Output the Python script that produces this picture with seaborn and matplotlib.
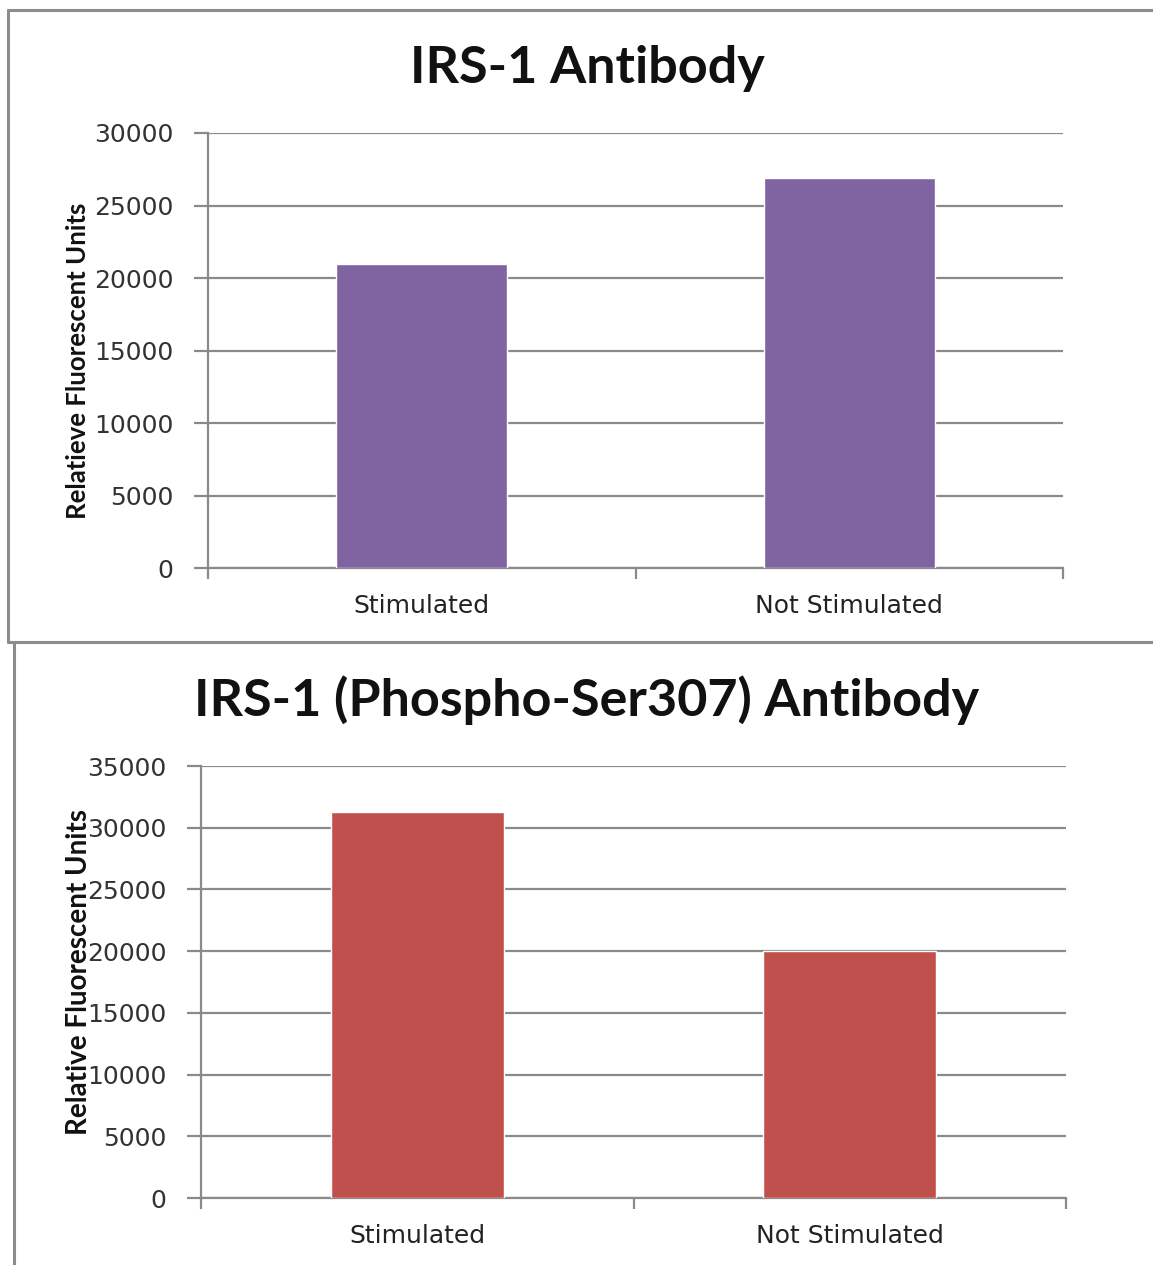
import matplotlib
matplotlib.use("Agg")
import matplotlib.pyplot as plt
import seaborn as sns
import pandas as pd
from matplotlib.lines import Line2D

categories = ["Stimulated", "Not Stimulated"]
irs1_values = [21000, 26900]
phospho_values = [31300, 20000]
title_top = "IRS-1 Antibody"
title_bottom = "IRS-1 (Phospho-Ser307) Antibody"
ylabel_top = "Relatieve Fluorescent Units"
ylabel_bottom = "Relative Fluorescent Units"
yticks_top = [0, 5000, 10000, 15000, 20000, 25000, 30000]
yticks_bottom = [0, 5000, 10000, 15000, 20000, 25000, 30000, 35000]

sns.set_theme(style="white")
plt.rcParams['font.family'] = ['DejaVu Sans']

W, H = 1153, 1265
fig = plt.figure(figsize=(W / 100, H / 100), dpi=100)
fig.patch.set_facecolor("white")

def px_axes(l, r, t, b):
    return fig.add_axes([l / W, 1 - b / H, (r - l) / W, (b - t) / H])

grid_c = "#8a8a8a"

def draw(ax, vals, color, yticks, ymax):
    df = pd.DataFrame({"cat": categories, "val": vals})
    sns.barplot(data=df, x="cat", y="val", color=color, width=0.4,
                saturation=1, ax=ax, zorder=3)
    ax.set_xlim(-0.5, 1.5)
    ax.set_ylim(0, ymax)
    ax.set_yticks(yticks)
    ax.set_yticklabels([str(v) for v in yticks], fontsize=18, color="#333333")
    ax.yaxis.grid(True, color=grid_c, linewidth=1.6, zorder=0)
    ax.set_axisbelow(True)
    for s in ["top", "right"]:
        ax.spines[s].set_visible(False)
    for s in ["left", "bottom"]:
        ax.spines[s].set_color(grid_c)
        ax.spines[s].set_linewidth(1.6)
    ax.tick_params(axis="y", which="major", length=10, width=1.6, color=grid_c,
                   direction="out", left=True, pad=15)
    ax.tick_params(axis="x", which="major", length=0, pad=19)
    ax.set_xticks([-0.5, 0.5, 1.5], minor=True)
    ax.tick_params(axis="x", which="minor", length=8, width=1.6, color=grid_c,
                   direction="out", bottom=True)
    for lab in ax.get_xticklabels():
        lab.set_fontsize(18)
        lab.set_color("#222222")
    ax.set_xlabel("")
    ax.set_ylabel("")
    ax.patch.set_alpha(0)

ax1 = px_axes(208, 1063, 133, 568)
draw(ax1, irs1_values, "#8064A2", yticks_top, 30000)
ax2 = px_axes(201, 1066, 766, 1198)
draw(ax2, phospho_values, "#C0504D", yticks_bottom, 35000)

tfont = ['Lato', 'DejaVu Sans']
fig.text(587 / W, 1 - 68 / H, title_top, ha="center", va="center",
         fontsize=37.5, fontweight="bold", family=tfont, color="#111111")
fig.text(587 / W, 1 - 700 / H, title_bottom, ha="center", va="center",
         fontsize=37.5, fontweight="bold", family=tfont, color="#111111")
fig.text(78 / W, 1 - 361 / H, ylabel_top, rotation=90, ha="center", va="center",
         fontsize=18.5, fontweight="bold", family=tfont, color="#111111")
fig.text(79 / W, 1 - 972 / H, ylabel_bottom, rotation=90, ha="center", va="center",
         fontsize=20, fontweight="bold", family=tfont, color="#111111")

bc = "#8c8c8c"
fig.add_artist(Line2D([8 / W, 1.0], [1 - 10 / H, 1 - 10 / H], color=bc, lw=2.2, transform=fig.transFigure))
fig.add_artist(Line2D([8 / W, 8 / W], [1 - 10 / H, 1 - 642 / H], color=bc, lw=2.2, transform=fig.transFigure))
fig.add_artist(Line2D([8 / W, 1.0], [1 - 642 / H, 1 - 642 / H], color=bc, lw=2.2, transform=fig.transFigure))
fig.add_artist(Line2D([14 / W, 14 / W], [1 - 642 / H, 0], color=bc, lw=2.2, transform=fig.transFigure))

fig.savefig("out.png", dpi=100, facecolor="white")
